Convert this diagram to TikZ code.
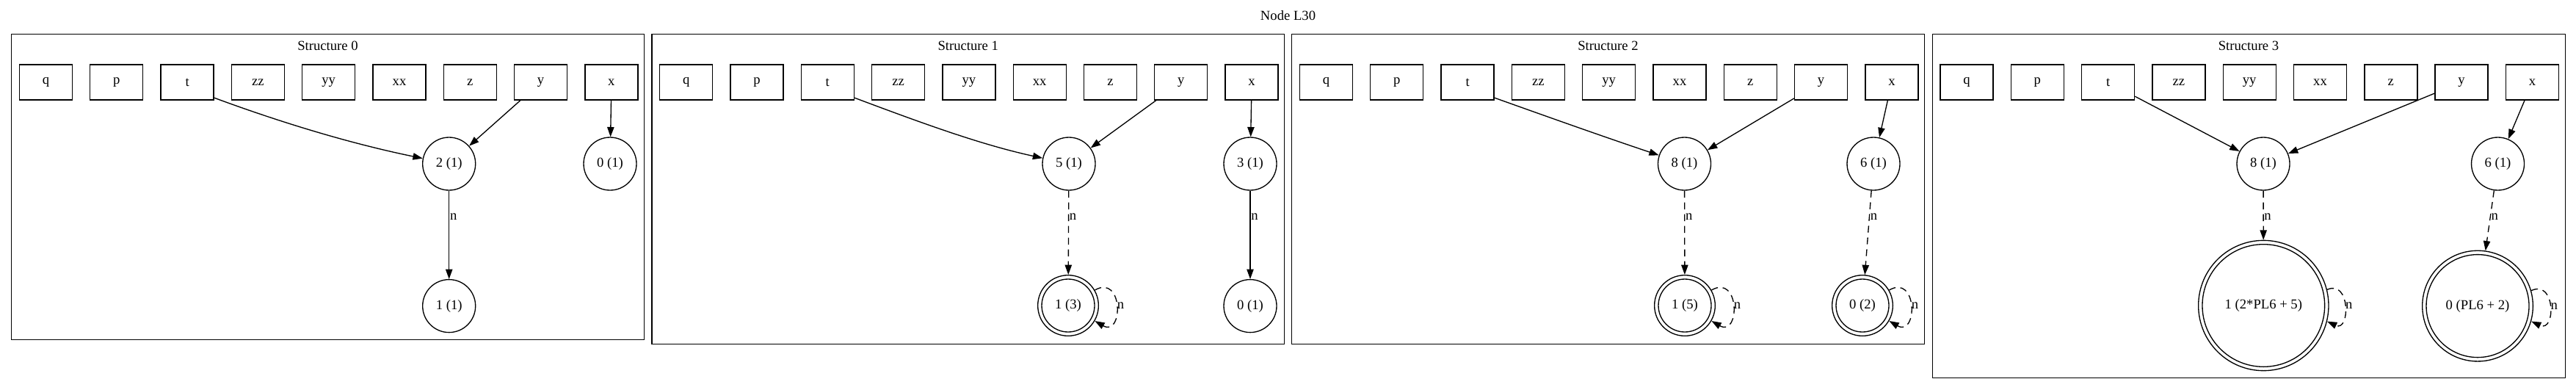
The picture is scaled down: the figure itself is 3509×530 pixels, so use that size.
\documentclass[tikz,border=0pt]{standalone}
\usepackage{fontspec}
\setmainfont{Liberation Serif}
\usetikzlibrary{arrows.meta}
\newcommand\mkvars[2]{%
  \foreach \v [count=\i from 0] in {q,p,t,zz,yy,xx,z,y,x}
    \node[var] (#1\v) at ({#2+96.3*\i},-112) {\v};}
\begin{document}
\begin{tikzpicture}[x=0.75bp,y=0.75bp,line width=1bp,
  every node/.style={font=\fontsize{14bp}{17bp}\selectfont},
  var/.style={draw,rectangle,minimum width=54bp,minimum height=36bp,inner sep=0pt},
  st/.style={draw,circle,minimum size=54bp,inner sep=0pt},
  dst/.style={draw,circle,minimum size=#1,inner sep=0pt},
  clus/.style={draw,line width=1bp},
  ttl/.style={inner sep=0pt},
  arr/.style={-{Triangle[length=10bp,width=7bp]}},
  dsh/.style={dash pattern=on 7bp off 5bp},
  lab/.style={anchor=west,inner sep=0.5bp}]
\useasboundingbox (0,0) rectangle (3509,-530);
\node[ttl] (title) at (1754.5,-20.7) {Node L30};
% ---------------- Structure 0
\draw[clus] (15.8,-46.5) rectangle (877.3,-462.7);
\node[ttl] (c0title) at (446.5,-62) {Structure 0};
\mkvars{c0}{62.5}
\node[st] (c0a) at (611.7,-223) {2 (1)};
\node[st] (c0b) at (831,-223) {0 (1)};
\node[st] (c0c) at (611.7,-416.6) {1 (1)};
\draw[arr] (c0t.-30) .. controls (386,-168) and (480,-196) .. (c0a);
\draw[arr] (c0y) -- (c0a);
\draw[arr] (c0x) -- (c0b);
\draw[arr] (c0a) -- (c0c) node[lab,pos=0.296] {n};
% ---------------- Structure 1
\draw[clus] (888,-46.5) rectangle (1749.5,-468.7);
\node[ttl] (c1title) at (1318.7,-62) {Structure 1};
\mkvars{c1}{934.7}
\node[st] (c1a) at (1456,-223) {5 (1)};
\node[st] (c1b) at (1703,-223) {3 (1)};
\node[dst=62bp] (c1c) at (1455,-416) {1 (3)};
\draw (c1c.center) circle[radius=27bp];
\node[st] (c1d) at (1703,-416.6) {0 (1)};
\draw[arr] (c1t.-30) .. controls (1249,-165) and (1334,-196.6) .. (c1a);
\draw[arr] (c1y) -- (c1a);
\draw[arr] (c1x) -- (c1b);
\draw[arr,dsh] (c1a) -- (c1c) node[lab,pos=0.31] {n};
\draw[arr] (c1b) -- (c1d) node[lab,pos=0.296] {n};
\draw[arr,dsh] (c1c.30) .. controls +(30:45) and +(-30:45) .. (c1c.-30) node[lab,pos=0.5] {n};
% ---------------- Structure 2
\draw[clus] (1759.8,-46.5) rectangle (2621.3,-468.7);
\node[ttl] (c2title) at (2190.5,-62) {Structure 2};
\mkvars{c2}{1806.5}
\node[st] (c2a) at (2294.5,-223) {8 (1)};
\node[st] (c2b) at (2552,-223) {6 (1)};
\node[dst=62bp] (c2c) at (2295,-416) {1 (5)};
\draw (c2c.center) circle[radius=27bp];
\node[dst=62bp] (c2d) at (2537,-416) {0 (2)};
\draw (c2d.center) circle[radius=27bp];
\draw[arr] (c2t.-30) .. controls (2111,-160) and (2184,-186) .. (c2a);
\draw[arr] (c2y) -- (c2a);
\draw[arr] (c2x) -- (c2b);
\draw[arr,dsh] (c2a) -- (c2c) node[lab,pos=0.31] {n};
\draw[arr,dsh] (c2b) -- (c2d) node[lab,pos=0.31] {n};
\draw[arr,dsh] (c2c.30) .. controls +(30:45) and +(-30:45) .. (c2c.-30) node[lab,pos=0.5] {n};
\draw[arr,dsh] (c2d.30) .. controls +(30:45) and +(-30:45) .. (c2d.-30) node[lab,pos=0.5] {n};
% ---------------- Structure 3
\draw[clus] (2632.3,-46.5) rectangle (3494.5,-514.5);
\node[ttl] (c3title) at (3063,-62) {Structure 3};
\mkvars{c3}{2679}
\node[st] (c3a) at (3083,-223) {8 (1)};
\node[st] (c3b) at (3402.5,-223) {6 (1)};
\node[dst=133bp] (c3c) at (3083.3,-416) {1 (2*PL6 + 5)};
\draw (c3c.center) circle[radius=62.5bp];
\node[dst=113bp] (c3d) at (3375,-416.6) {0 (PL6 + 2)};
\draw (c3d.center) circle[radius=52.5bp];
\draw[arr] (c3t) -- (c3a);
\draw[arr] (c3y) -- (c3a);
\draw[arr] (c3x) -- (c3b);
\draw[arr,dsh] (c3a) -- (c3c) node[lab,pos=0.53] {n};
\draw[arr,dsh] (c3b) -- (c3d) node[lab,pos=0.44] {n};
\draw[arr,dsh] (c3c.14) .. controls +(25:35) and +(-25:35) .. (c3c.-14) node[lab,pos=0.5] {n};
\draw[arr,dsh] (c3d.16.5) .. controls +(25:37) and +(-25:37) .. (c3d.-16.5) node[lab,pos=0.5] {n};
\end{tikzpicture}
\end{document}
